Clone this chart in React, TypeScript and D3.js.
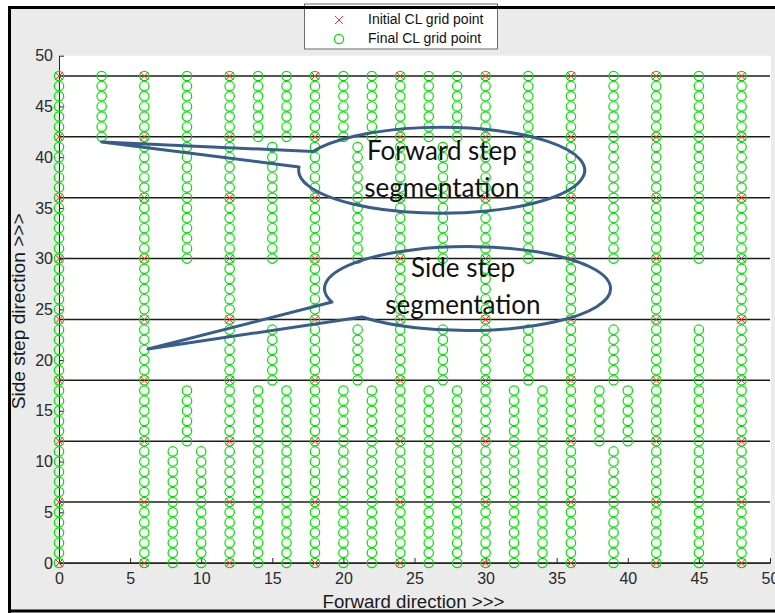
import React, { useEffect, useRef } from 'react';
import * as d3 from 'd3';

const xTicks = [0, 5, 10, 15, 20, 25, 30, 35, 40, 45, 50];
const yTicks = [0, 5, 10, 15, 20, 25, 30, 35, 40, 45, 50];

// red x : initial CL grid
const initialX = [0, 6, 12, 18, 24, 30, 36, 42, 48];
const initialY = [0, 6, 12, 18, 24, 30, 36, 42, 48];

// black horizontal lines
const segmentY = [0, 6, 12, 18, 24, 30, 36, 42, 48];

// green o : final CL grid, runs of points  [x, yStart, yEnd]
const finalStep = 1;
const finalRuns = [
  [0, 0, 48],
  [3, 42, 48],
  [6, 0, 48],
  [8, 0, 11],
  [9, 30, 48], [9, 12, 17],
  [10, 0, 11],
  [12, 0, 48],
  [14, 42, 48], [14, 0, 17],
  [15, 30, 41], [15, 18, 23],
  [16, 42, 48], [16, 0, 17],
  [18, 0, 48],
  [20, 42, 48], [20, 0, 17],
  [21, 30, 41], [21, 18, 23],
  [22, 42, 48], [22, 0, 17],
  [24, 0, 48],
  [26, 42, 48], [26, 0, 17],
  [27, 30, 41], [27, 18, 23],
  [28, 42, 48], [28, 0, 17],
  [30, 0, 48],
  [32, 0, 17],
  [33, 30, 48], [33, 18, 23],
  [34, 0, 17],
  [36, 0, 48],
  [38, 12, 17],
  [39, 30, 48], [39, 18, 23], [39, 0, 11],
  [40, 12, 17],
  [42, 0, 48],
  [45, 30, 48], [45, 0, 23],
  [48, 0, 48],
];

const legendLabels = ['Initial CL grid point', 'Final CL grid point'];
const xLabel = 'Forward direction >>>';
const yLabel = 'Side step direction >>>';

// speech bubbles, in data units
const callouts = [
  { text: ['Forward step', 'segmentation'], center: [26.93, 38.73], radius: [10.06, 4.24],
    tip: [3, 41.5], base: [[17.86, 40.56], [16.88, 39.03]] },
  { text: ['Side step', 'segmentation'], center: [28.41, 27.2], radius: [10.06, 4.14],
    tip: [6.26, 21.09], base: [[19.2, 25.72], [21.31, 24.25]] },
];

export default function App() {
  const ref = useRef<SVGSVGElement>(null);

  useEffect(() => {
    const svg = d3.select(ref.current);
    svg.selectAll('*').remove();

    const x = d3.scaleLinear().domain([0, 50]).range([59, 770]);
    const y = d3.scaleLinear().domain([0, 50]).range([563, 55.7]);
    const ux = x(1) - x(0);
    const uy = y(0) - y(1);

    // figure background
    svg.append('rect')
      .attr('x', 9.5).attr('y', 7.5)
      .attr('width', 780).attr('height', 603.5)
      .attr('fill', '#ebebeb');

    // axes area
    svg.append('rect')
      .attr('x', x(0)).attr('y', y(50))
      .attr('width', x(50) - x(0) + 1).attr('height', y(0) - y(50))
      .attr('fill', '#ffffff');

    // legend
    const leg = svg.append('g');
    leg.append('rect')
      .attr('x', 304.5).attr('y', 4)
      .attr('width', 193).attr('height', 45)
      .attr('fill', '#fff').attr('stroke', '#6a6a6a');
    leg.append('path')
      .attr('d', 'M-4,-4L4,4M-4,4L4,-4')
      .attr('transform', 'translate(339,20)')
      .attr('stroke', '#ff2a2a').attr('fill', 'none');
    leg.append('circle')
      .attr('cx', 339).attr('cy', 39).attr('r', 4.6)
      .attr('stroke', '#00e000').attr('fill', 'none').attr('stroke-width', 1.2);
    leg.selectAll('text.leg')
      .data(legendLabels)
      .enter()
      .append('text')
      .attr('class', 'leg')
      .attr('x', 368)
      .attr('y', (d, i) => 24 + i * 19)
      .attr('font-family', 'Liberation Sans, Arial, sans-serif')
      .attr('font-size', 14)
      .attr('fill', '#111')
      .text(d => d);

    // frame
    svg.append('path')
      .attr('d', 'M9.5,613V7.5H775M9.5,611H775')
      .attr('stroke', '#000').attr('stroke-width', 3).attr('fill', 'none');

    // segment lines
    svg.append('g').selectAll('line')
      .data(segmentY)
      .enter()
      .append('line')
      .attr('x1', x(0)).attr('x2', x(50))
      .attr('y1', d => y(d)).attr('y2', d => y(d))
      .attr('stroke', '#1c1c1c').attr('stroke-width', 1.5);

    // axes
    const yAxis = d3.axisLeft(y).tickValues(yTicks).tickSizeInner(-5).tickSizeOuter(0).tickPadding(6);
    const xAxis = d3.axisBottom(x).tickValues(xTicks).tickSizeInner(-5).tickSizeOuter(0).tickPadding(10);

    const gy = svg.append('g').attr('transform', `translate(${x(0)},0)`).call(yAxis);
    const gx = svg.append('g').attr('transform', `translate(0,${y(0)})`).call(xAxis);
    [gx, gy].forEach(g => {
      g.select('.domain').attr('stroke', '#262626');
      g.selectAll('.tick line').attr('stroke', '#262626');
      g.selectAll('.tick text')
        .attr('font-family', 'Liberation Sans, Arial, sans-serif')
        .attr('font-size', 16)
        .attr('fill', '#2a2a2a');
    });

    // final CL grid points
    const finalPoints: number[][] = [];
    finalRuns.forEach(([fx, y0, y1]) => {
      d3.range(y0, y1 + finalStep / 2, finalStep).forEach(fy => finalPoints.push([fx, fy]));
    });
    svg.append('g').selectAll('circle')
      .data(finalPoints)
      .enter()
      .append('circle')
      .attr('cx', d => x(d[0]))
      .attr('cy', d => y(d[1]))
      .attr('r', 4.7)
      .attr('fill', 'none')
      .attr('stroke', '#00e000')
      .attr('stroke-width', 1.2);

    // initial CL grid points
    const initialPoints = d3.cross(initialX, initialY);
    svg.append('g').selectAll('path')
      .data(initialPoints)
      .enter()
      .append('path')
      .attr('d', 'M-4,-4L4,4M-4,4L4,-4')
      .attr('transform', d => `translate(${x(d[0])},${y(d[1])})`)
      .attr('stroke', '#ff2a2a')
      .attr('fill', 'none');

    // axis labels
    svg.append('text')
      .attr('x', (x(0) + x(50)) / 2 - 1).attr('y', 608)
      .attr('text-anchor', 'middle')
      .attr('font-family', 'Liberation Sans, Arial, sans-serif')
      .attr('font-size', 18)
      .attr('textLength', 182)
      .attr('lengthAdjust', 'spacingAndGlyphs')
      .attr('fill', '#1a1a1a')
      .text(xLabel);
    svg.append('text')
      .attr('transform', `translate(25,${(y(0) + y(50)) / 2 + 2}) rotate(-90)`)
      .attr('text-anchor', 'middle')
      .attr('font-family', 'Liberation Sans, Arial, sans-serif')
      .attr('font-size', 18)
      .attr('textLength', 196)
      .attr('lengthAdjust', 'spacingAndGlyphs')
      .attr('fill', '#1a1a1a')
      .text(yLabel);

    // callouts
    callouts.forEach(c => {
      const cx = x(c.center[0]), cy = y(c.center[1]);
      const rx = c.radius[0] * ux, ry = c.radius[1] * uy;
      const b0 = [x(c.base[0][0]), y(c.base[0][1])];
      const b1 = [x(c.base[1][0]), y(c.base[1][1])];
      const t = [x(c.tip[0]), y(c.tip[1])];
      svg.append('path')
        .attr('d', `M${b0[0]},${b0[1]}L${t[0]},${t[1]}L${b1[0]},${b1[1]}A${rx},${ry} 0 1 0 ${b0[0]},${b0[1]}Z`)
        .attr('fill', 'none')
        .attr('stroke', '#385d8a')
        .attr('stroke-width', 3)
        .attr('stroke-linejoin', 'round');
      svg.append('g').selectAll('text')
        .data(c.text)
        .enter()
        .append('text')
        .attr('x', cx)
        .attr('y', (d, i) => cy - 10 + i * 37)
        .attr('text-anchor', 'middle')
        .attr('font-family', 'Lato, sans-serif')
        .attr('font-size', 26)
        .attr('fill', '#111')
        .text(d => d);
    });
  }, []);

  return (
    <>
      <style>{'body{margin:0}'}</style>
      <svg ref={ref} width={775} height={613} style={{ display: 'block', background: '#fff' }} />
    </>
  );
}
